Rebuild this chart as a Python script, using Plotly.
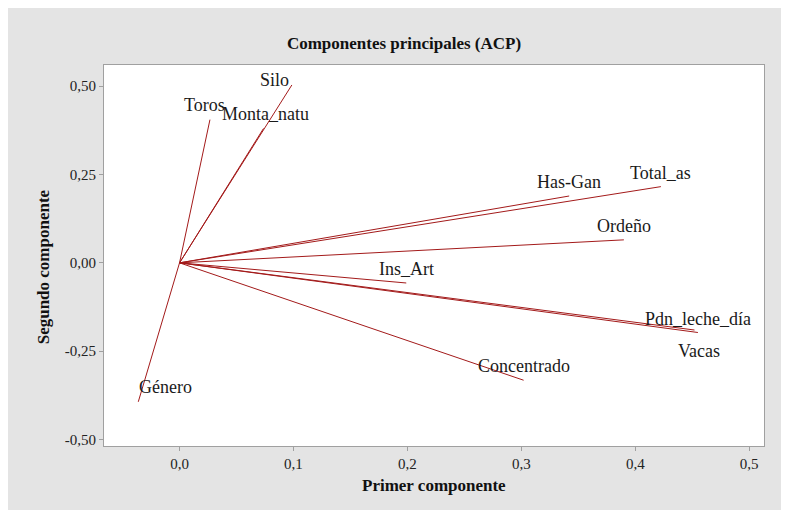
import plotly.graph_objects as go

# ---- data (loadings) ----
variables = ["Silo", "Toros", "Monta_natu", "Has-Gan", "Total_as", "Ordeño",
             "Ins_Art", "Pdn_leche_día", "Vacas", "Concentrado", "Género"]
pc1 = [0.0986, 0.0267, 0.0737, 0.342, 0.4225, 0.390, 0.199, 0.455, 0.452, 0.302, -0.0362]
pc2 = [0.503, 0.405, 0.380, 0.189, 0.2155, 0.065, -0.057, -0.197, -0.190, -0.332, -0.393]

x_tickvals = [0.0, 0.1, 0.2, 0.3, 0.4, 0.5]
x_ticktext = ["0,0", "0,1", "0,2", "0,3", "0,4", "0,5"]
y_tickvals = [-0.5, -0.25, 0.0, 0.25, 0.5]
y_ticktext = ["-0,50", "-0,25", "0,00", "0,25", "0,50"]

# ---- label offsets in pixels (style) ----
label_shift = {
    "Silo": (-17, 5),
    "Toros": (-5, 15),
    "Monta_natu": (2, 14),
    "Género": (27, 15),
    "Vacas": (4, -21),
}
default_shift = (0, 14)

LINE = "#A31A1A"
SERIF = "Liberation Serif, Times New Roman, serif"

xs, ys = [], []
for a, b in zip(pc1, pc2):
    xs += [0, a, None]
    ys += [0, b, None]

fig = go.Figure()
fig.add_trace(go.Scatter(x=xs, y=ys, mode="lines",
                         line=dict(color=LINE, width=1),
                         hoverinfo="skip", showlegend=False))

annotations = []
for name, a, b in zip(variables, pc1, pc2):
    dx, dy = label_shift.get(name, default_shift)
    annotations.append(dict(x=a, y=b, xref="x", yref="y", text=name,
                            showarrow=False, xshift=dx, yshift=dy,
                            xanchor="center", yanchor="middle",
                            font=dict(family=SERIF, size=18, color="#1a1a1a")))

annotations.append(dict(x=0.5, y=0, xref="paper", yref="paper",
                        text="<b>Primer componente</b>", showarrow=False,
                        yshift=-39, yanchor="middle", xanchor="center",
                        font=dict(family=SERIF, size=17, color="#111")))
annotations.append(dict(x=0, y=0.469, xref="paper", yref="paper",
                        text="<b>Segundo componente</b>", showarrow=False,
                        xshift=-61, textangle=-90, yanchor="middle", xanchor="center",
                        font=dict(family=SERIF, size=17, color="#111")))

axis_common = dict(showgrid=False, zeroline=False, showline=True, mirror=True,
                   linecolor="#A0A0A0", linewidth=1, ticks="outside", ticklen=4,
                   tickcolor="#A0A0A0", tickfont=dict(family=SERIF, size=15, color="#222"))

fig.update_layout(
    width=789, height=510,
    margin=dict(l=96, r=33, t=57, b=72),
    paper_bgcolor="#E4E4E4", plot_bgcolor="white",
    title=dict(text="<b>Componentes principales (ACP)</b>", x=396 / 789, xanchor="center",
               y=1 - 35 / 510, yanchor="middle", yref="container", xref="container",
               font=dict(family=SERIF, size=17, color="#111")),
    xaxis=dict(range=[-0.0663, 0.513], tickvals=x_tickvals, ticktext=x_ticktext, **axis_common),
    yaxis=dict(range=[-0.518, 0.5595], tickvals=y_tickvals, ticktext=y_ticktext, **axis_common),
    annotations=annotations,
)

fig.write_html("out.html")
